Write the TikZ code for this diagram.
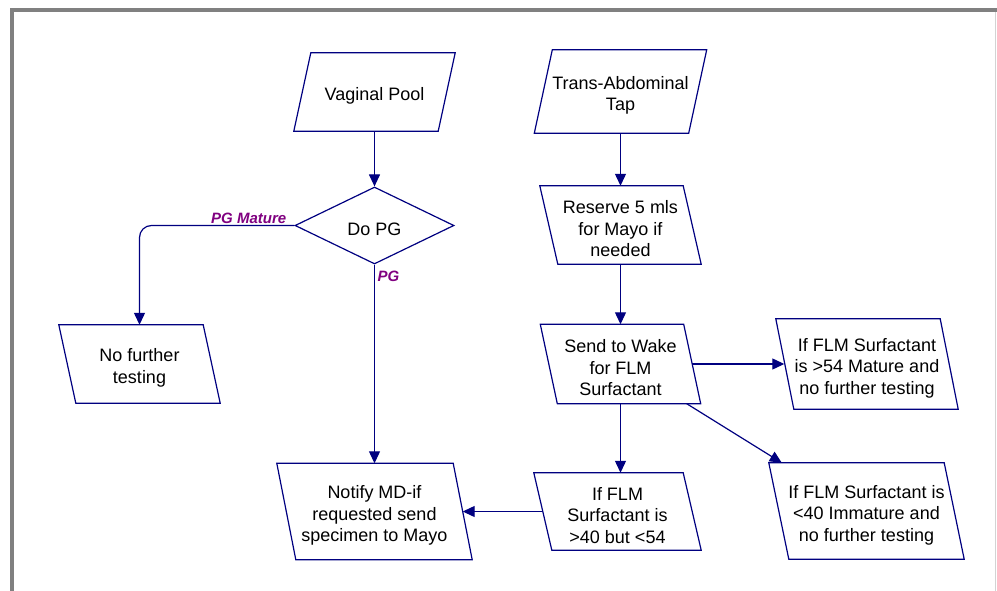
\documentclass[tikz,border=0pt]{standalone}
\usepackage{fontspec}
\setmainfont{Liberation Sans}
\usetikzlibrary{shapes.geometric,arrows.meta}
\definecolor{flowBlue}{RGB}{0,0,128}
\definecolor{flowPurple}{RGB}{128,0,128}
\definecolor{frameGray}{RGB}{128,128,128}

\begin{document}
\begin{tikzpicture}[%%
  x=1pt,y=-1pt,
  every node/.style={font=\fontsize{18}{21.5}\selectfont},
  boxLine/.style={draw=flowBlue,line width=1.2pt},
  boxText/.style={label={[align=center,yshift=-4pt]center:#1}},
  %% data boxes, top edge pushed right (leanRight) or left (leanLeft)
  leanRight/.style={rectangle,inner sep=0pt,
    append after command={\pgfextra{\draw[boxLine,line join=miter]
      ([xshift=#1]\tikzlastnode.north west) -- (\tikzlastnode.north east)
      -- ([xshift=-#1]\tikzlastnode.south east) -- (\tikzlastnode.south west) -- cycle;}}},
  leanLeft/.style={rectangle,inner sep=0pt,
    append after command={\pgfextra{\draw[boxLine,line join=miter]
      (\tikzlastnode.north west) -- ([xshift=-#1]\tikzlastnode.north east)
      -- (\tikzlastnode.south east) -- ([xshift=#1]\tikzlastnode.south west) -- cycle;}}},
  decisionStyle/.style={diamond,boxLine,inner sep=0pt},
  flowStyle/.style={draw=flowBlue,line width=1.2pt,-{Triangle[length=12pt,width=11pt]}},
  labelStyle/.style={text=flowPurple,inner sep=0pt,font=\fontsize{15}{18}\selectfont\bfseries\itshape}
]
\useasboundingbox (0,0) rectangle (997,591);
%%
%% The frame.
\draw[frameGray,line width=3.5pt] (12,591) -- (12,10) -- (997,10);
\draw[frameGray!35,line width=0.8pt] (995,12) -- (995,591);
%%
%% Left branch.
\node[leanRight=17pt,minimum width=161,minimum height=78,boxText={Vaginal Pool}] (vagPool) at (374.5,92) {};
\node[decisionStyle,minimum width=159,minimum height=77,boxText={Do PG}] (doPG) at (374.5,225.5) {};
\node[leanLeft=17pt,minimum width=161,minimum height=78,boxText={No further\\testing}] (noFurther) at (139.5,364) {};
\node[leanLeft=19pt,minimum width=195,minimum height=96,boxText={Notify MD-if\\requested send\\specimen to Mayo}] (notifyMD) at (374.5,511.5) {};
%%
%% Right branch.
\node[leanRight=18pt,minimum width=172,minimum height=83,boxText={Trans-Abdominal\\Tap}] (transTap) at (620.5,91.5) {};
\node[leanLeft=18pt,minimum width=161,minimum height=78,boxText={Reserve 5 mls\\for Mayo if\\needed}] (reserve) at (620.5,225) {};
\node[leanLeft=17pt,minimum width=160,minimum height=79,boxText={Send to Wake\\for FLM\\Surfactant}] (sendWake) at (620.5,364) {};
\node[leanLeft=18pt,minimum width=182,minimum height=90,boxText={If FLM Surfactant\\is >54 Mature and\\no further testing}] (ifMature) at (867,364) {};
\node[leanLeft=18pt,minimum width=167,minimum height=77,boxText={If FLM\\Surfactant is\\>40 but <54}] (ifMid) at (617.5,511.5) {};
\node[leanLeft=20pt,minimum width=195,minimum height=96,boxText={If FLM Surfactant is\\<40 Immature and\\no further testing}] (ifImmature) at (866.5,511) {};
%%
%% Connectors.
\draw[flowStyle] (vagPool) -- (doPG);
\draw[flowStyle,rounded corners=12pt] (doPG.west) -| (noFurther);
\draw[flowStyle] (doPG) -- (doPG |- notifyMD.north);
\draw[flowStyle] (transTap) -- (transTap |- reserve.north);
\draw[flowStyle] (reserve) -- (reserve |- sendWake.north);
\draw[flowStyle] ([xshift=-8.5pt]sendWake.east) -- ([xshift=8.5pt]ifMature.west);
\draw[flowStyle] (sendWake) -- (sendWake |- ifMid.north);
\draw[flowStyle] ([xshift=-14pt]sendWake.south east) -- ([xshift=13pt]ifImmature.north west);
\draw[flowStyle] ([xshift=9pt]ifMid.west) -- ([xshift=-9.5pt]notifyMD.east);
%% Branch labels.
\node[labelStyle,anchor=base east] (pgMatureLbl) at ([xshift=-8pt,yshift=1.5pt]doPG.west) {PG Mature};
\node[labelStyle,anchor=base west] (pgLbl) at ([xshift=3pt,yshift=-17pt]doPG.south) {PG};
\end{tikzpicture}
\end{document}
